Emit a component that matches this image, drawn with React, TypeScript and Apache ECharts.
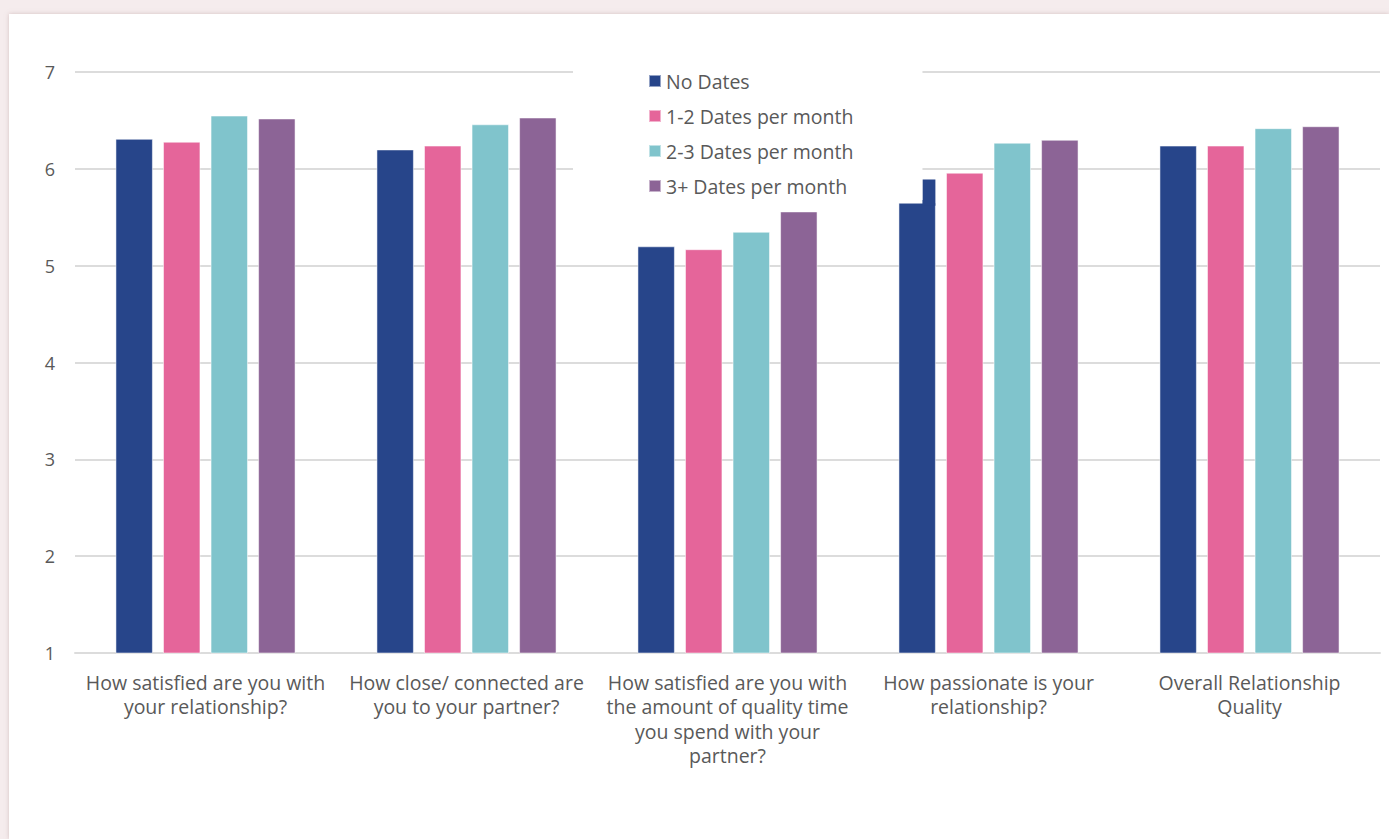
import React, { useEffect, useRef } from "react";
import * as echarts from "echarts";

const categories = [
  "How satisfied are you with\nyour relationship?",
  "How close/ connected are\nyou to your partner?",
  "How satisfied are you with\nthe amount of quality time\nyou spend with your\npartner?",
  "How passionate is your\nrelationship?",
  "Overall Relationship\nQuality",
];

const seriesNames = [
  "No Dates",
  "1-2 Dates per month",
  "2-3 Dates per month",
  "3+ Dates per month",
];

const noDates = [6.31, 6.2, 5.2, 5.65, 6.24];
const dates12 = [6.28, 6.24, 5.17, 5.96, 6.24];
const dates23 = [6.55, 6.46, 5.35, 6.27, 6.42];
const dates3plus = [6.52, 6.53, 5.56, 6.3, 6.44];

// step visible on top of the "No Dates" bar for the passionate question
const noDatesStep = [[3, 5.65, 5.89]];

const colors = ["#27458a", "#e5659a", "#80c4cc", "#8c6496"];

const yTicks = { min: 1, max: 7, interval: 1 };

const CAT_GAP = 0.31;
const BAR_GAP = 0.27;

export default function App() {
  const ref = useRef<HTMLDivElement>(null);

  useEffect(() => {
    if (!ref.current) return;
    const chart = echarts.init(ref.current, null, { renderer: "svg" });
    const font = "'Open Sans', sans-serif";
    const values = [noDates, dates12, dates23, dates3plus];
    const barSeries = seriesNames.map((name, i) => ({
      name,
      type: "bar",
      data: values[i],
      itemStyle: { color: colors[i], borderColor: "rgba(255,255,255,0.5)", borderWidth: 1 },
      barCategoryGap: `${CAT_GAP * 100}%`,
      barGap: `${BAR_GAP * 100}%`,
    }));
    chart.setOption({
      animation: false,
      color: colors,
      textStyle: { fontFamily: font },
      grid: { left: 66, right: 9, top: 58, bottom: 186, containLabel: false },
      legend: {
        orient: "vertical",
        left: 564,
        top: 46,
        data: seriesNames,
        icon: "rect",
        itemWidth: 12,
        itemHeight: 12,
        itemGap: 15,
        padding: [11, 69, 4, 75],
        backgroundColor: "#ffffff",
        textStyle: { color: "#595959", fontSize: 19.5, fontFamily: font, lineHeight: 20 },
      },
      xAxis: {
        type: "category",
        data: categories,
        axisLine: { show: true, lineStyle: { color: "#dcdcdc", width: 2 } },
        axisTick: { show: false },
        axisLabel: {
          color: "#595959",
          fontSize: 19.5,
          lineHeight: 24.5,
          margin: 17,
          interval: 0,
          fontFamily: font,
        },
      },
      yAxis: {
        type: "value",
        min: yTicks.min,
        max: yTicks.max,
        interval: yTicks.interval,
        axisLine: { show: false },
        axisTick: { show: false },
        axisLabel: { color: "#595959", fontSize: 18, margin: 20, fontFamily: font },
        splitLine: { lineStyle: { color: "#dcdcdc", width: 2 } },
      },
      series: [
        ...barSeries,
        {
          type: "custom",
          data: noDatesStep,
          z: 3,
          renderItem: (params: any, api: any) => {
            const idx = api.value(0);
            const lo = api.value(1);
            const hi = api.value(2);
            const bandW = api.size([1, 0])[0];
            const usable = bandW * (1 - CAT_GAP);
            const bw = usable / (4 + 3 * BAR_GAP);
            const total = 4 * bw + 3 * BAR_GAP * bw;
            const c = api.coord([idx, lo]);
            const top = api.coord([idx, hi]);
            const start = c[0] - total / 2;
            const x = start + bw * 0.64;
            return {
              type: "rect",
              shape: { x, y: top[1], width: bw * 0.36 - 0.5, height: c[1] - top[1] + 3 },
              style: { fill: colors[0] },
            };
          },
        },
      ],
    });
    return () => chart.dispose();
  }, []);

  return (
    <div
      style={{
        position: "fixed",
        left: 0,
        top: 0,
        width: 1389,
        height: 839,
        background: "#f5eced",
        overflow: "hidden",
      }}
    >
      <div
        style={{
          position: "absolute",
          left: 9,
          top: 14,
          width: 1380,
          height: 825,
          background: "#ffffff",
          boxShadow: "0 0 4px rgba(180,150,150,0.5)",
        }}
      >
        <div ref={ref} style={{ width: 1380, height: 825 }} />
      </div>
    </div>
  );
}
